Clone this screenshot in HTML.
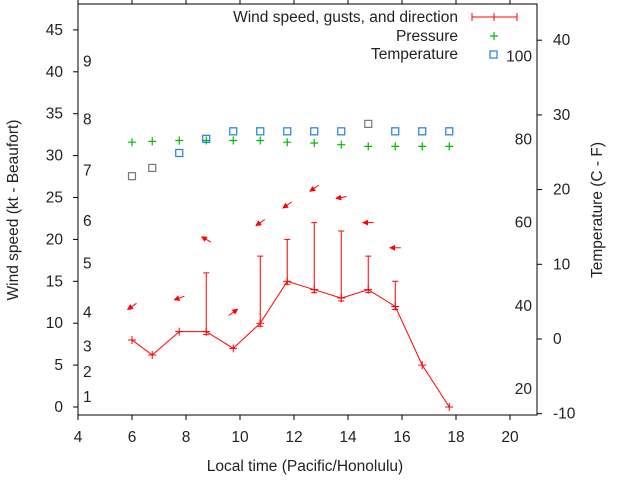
<!DOCTYPE html>
<html><head><meta charset="utf-8"><style>
body{margin:0;background:#fff;}
svg text{font-family:"Liberation Sans",sans-serif;font-size:15.5px;fill:#222;}
</style></head><body>
<svg id="chart" width="640" height="480" viewBox="0 0 640 480" xmlns="http://www.w3.org/2000/svg">
<defs><marker id="ah" viewBox="0 0 10 10" refX="9" refY="5" markerWidth="6" markerHeight="6" orient="auto"><path d="M0,0 L10,5 L0,10 z" fill="#f00"/></marker></defs>
<g id="frame"></g>
<g id="marks"></g>
<text x="305" y="471" text-anchor="middle">Local time (Pacific/Honolulu)</text>
<text transform="translate(18,210) rotate(-90)" text-anchor="middle">Wind speed (kt - Beaufort)</text>
<text transform="translate(602,210) rotate(-90)" text-anchor="middle">Temperature (C - F)</text>
<g>
<text x="458" y="22" text-anchor="end">Wind speed, gusts, and direction</text>
<line x1="472" y1="17" x2="517" y2="17" stroke="#f00"/><line x1="472" y1="13" x2="472" y2="21" stroke="#f00"/><line x1="517" y1="13" x2="517" y2="21" stroke="#f00"/><line x1="494" y1="13" x2="494" y2="21" stroke="#f00"/>
<text x="458" y="41" text-anchor="end">Pressure</text>
<path d="M490,36h8M494,32v8" stroke="#0b0" stroke-width="1.2"/>
<text x="458" y="59" text-anchor="end">Temperature</text>
<rect x="490" y="51" width="7" height="7" fill="none" stroke="#1e7fe0" stroke-width="1.2"/>
</g>
</svg>
<script>
const times=[6.0,6.75,7.75,8.75,9.75,10.75,11.75,12.75,13.75,14.75,15.75,16.75,17.75];
const wind=[8,6.2,9,9,7,10,15,14,13,14,12,5,0];
const gusts=[null,null,null,16,null,18,20,22,21,18,15,null,null];
const pressure=[31.6,31.7,31.8,31.8,31.8,31.8,31.6,31.5,31.3,31.1,31.1,31.1,31.1];
const tempC=[21.8,22.9,24.9,26.8,27.8,27.8,27.8,27.8,27.8,28.8,27.8,27.8,27.8];
const tempGray=[1,1,0,0,0,0,0,0,0,1,0,0,0];
const arrowTimes=[6.0,7.75,8.75,9.75,10.75,11.75,12.75,13.75,14.75,15.75];
const arrowLevel=[12.0,13.0,20.0,11.3,22.0,24.1,26.1,25.0,22.0,19.0];
const arrowAngle=[215,200,150,35,215,215,215,190,180,180];
const xTicks=[4,6,8,10,12,14,16,18,20];
const yTicks=[0,5,10,15,20,25,30,35,40,45];
const y2Ticks=[-10,0,10,20,30,40];
const beaufortLabels=["1","2","3","4","5","6","7","8","9"];
const beaufortPos=[1.2,4.2,7.2,11.3,17.1,22.2,28.2,34.3,41.2];
const fLabels=["20","40","60","80","100"];
const fPos=[-6.7,4.4,15.6,26.7,37.8];

const L=78,R=537,T=4,B=415;
const X=v=>L+(v-4)*27;
const Y=v=>407-v*8.38;
const Y2=v=>339-v*7.47;
const NS="http://www.w3.org/2000/svg";
function mk(par,tag,at){const e=document.createElementNS(NS,tag);for(const k in at)e.setAttribute(k,at[k]);par.appendChild(e);return e;}
const F=document.getElementById('frame'),M=document.getElementById('marks');
const box=mk(F,'rect',{x:L,y:T,width:R-L,height:B-T,fill:'none',stroke:'#000','stroke-width':1});


xTicks.forEach(t=>{
 mk(F,'line',{x1:X(t),y1:B,x2:X(t),y2:B+5,stroke:'#000'});
 mk(F,'line',{x1:X(t),y1:T,x2:X(t),y2:T-5,stroke:'#000'});
 const tx=mk(F,'text',{x:X(t),y:442,'text-anchor':'middle'});tx.textContent=t;
 
 
});
yTicks.forEach(t=>{
 mk(F,'line',{x1:L-5,y1:Y(t),x2:L,y2:Y(t),stroke:'#000'});
 const tx=mk(F,'text',{x:63,y:Y(t)+5,'text-anchor':'end'});tx.textContent=t;
 
 
});
y2Ticks.forEach(t=>{
 mk(F,'line',{x1:R,y1:Y2(t),x2:R+5,y2:Y2(t),stroke:'#000'});
 const tx=mk(F,'text',{x:553,y:Y2(t)+5});tx.textContent=t;
 
 
});
beaufortLabels.forEach((s,i)=>{const tx=mk(F,'text',{x:83,y:Y(beaufortPos[i])+5});tx.textContent=s;
 
 });
fLabels.forEach((s,i)=>{const tx=mk(F,'text',{x:532,y:Y2(fPos[i])+5,'text-anchor':'end'});tx.textContent=s;
 
 });
const pl=mk(M,'polyline',{points:times.map((t,i)=>X(t)+','+Y(wind[i])).join(' '),fill:'none',stroke:'#f00'});


times.forEach((t,i)=>{
 const x=X(t),y=Y(wind[i]);
 const p=mk(M,'path',{d:`M${x-4},${y}h8M${x},${y-4}v8`,stroke:'#f00'});
 
 
 if(gusts[i]!=null){const g=Y(gusts[i]);
  const e=mk(M,'path',{d:`M${x},${y+3}V${g}M${x-3},${g}h6M${x-3},${y+3}h6`,stroke:'#f00'});
  
  }
 const pp=mk(M,'path',{d:`M${x-4},${Y(pressure[i])}h8M${x},${Y(pressure[i])-4}v8`,stroke:'#0b0','stroke-width':1.2});
 
 
 const r=mk(M,'rect',{x:x-3.5,y:Y2(tempC[i])-3.5,width:7,height:7,fill:'none',stroke:tempGray[i]?'#777':'#1e7fe0','stroke-width':1.2});
 
 
});
arrowTimes.forEach((t,i)=>{
 const a=arrowAngle[i]*Math.PI/180,cx=X(t),cy=Y(arrowLevel[i]),h=5.5;
 const ln=mk(M,'line',{x1:cx-Math.cos(a)*h,y1:cy+Math.sin(a)*h,x2:cx+Math.cos(a)*h,y2:cy-Math.sin(a)*h,stroke:'#f00','marker-end':'url(#ah)'});
 
 
});
</script>
</body></html>
